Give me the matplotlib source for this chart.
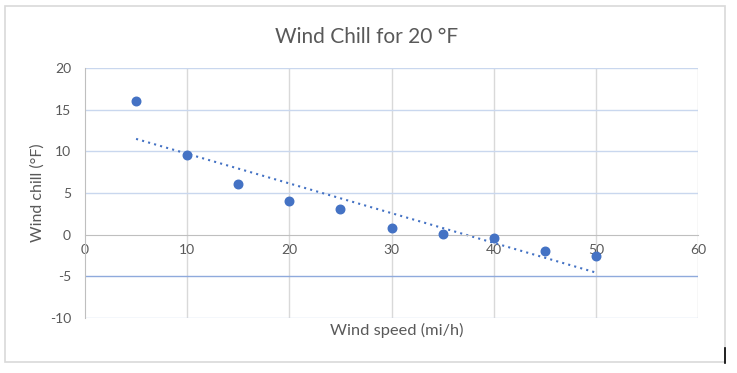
import numpy as np
import matplotlib.pyplot as plt
from matplotlib.patches import Rectangle
from matplotlib.lines import Line2D

# wind speed (mi/h) and wind chill (F)
wind_speed = [5, 10, 15, 20, 25, 30, 35, 40, 45, 50]
wind_chill = [16.0, 9.55, 6.1, 4.0, 3.1, 0.8, 0.1, -0.4, -1.9, -2.6]
x_ticks = [0, 10, 20, 30, 40, 50, 60]
y_ticks = [-10, -5, 0, 5, 10, 15, 20]


def main():
    plt.rcParams['font.family'] = ['Lato', 'DejaVu Sans']
    plt.rcParams['axes.unicode_minus'] = False
    fig = plt.figure(figsize=(7.37, 3.73), dpi=100)
    W, H = 737, 373

    # 枠
    fig.patches.append(Rectangle((5 / W, 1 - 362 / H), 720 / W, 356 / H,
                                 transform=fig.transFigure, fill=False,
                                 edgecolor='#d9d9d9', linewidth=1.2))
    fig.lines.append(Line2D([725 / W, 725 / W], [1 - 348 / H, 1 - 363 / H],
                            transform=fig.transFigure, color='black', linewidth=1.2))

    ax = fig.add_axes([85 / W, 1 - 318 / H, (698 - 85) / W, (318 - 68) / H])
    ax.set_xlim(0, 60)
    ax.set_ylim(-10, 20)

    # grid
    for x in x_ticks[1:]:
        ax.axvline(x, color='#d9d9d9', linewidth=1, zorder=0)
    for y in y_ticks:
        if y == 0:
            continue
        c = '#8faadc' if y == -5 else '#c9d7ee'
        ax.axhline(y, color=c, linewidth=1, zorder=0)

    for s in ['top', 'right']:
        ax.spines[s].set_visible(False)
    ax.spines['left'].set_color('#bfbfbf')
    ax.spines['bottom'].set_position(('data', 0))
    ax.spines['bottom'].set_color('#bfbfbf')

    ax.set_xticks(x_ticks)
    ax.set_yticks(y_ticks)
    ax.tick_params(length=0, labelsize=10, labelcolor='#595959')
    ax.tick_params(axis='x', pad=7)
    ax.tick_params(axis='y', pad=10)

    ax.scatter(wind_speed, wind_chill, s=38, color='#4472c4', zorder=3)

    # linear trendline
    k, b = np.polyfit(wind_speed, wind_chill, 1)
    xs = np.array([wind_speed[0], wind_speed[-1]])
    ax.plot(xs, k * xs + b, color='#4472c4', linestyle=(0, (1, 2)),
            linewidth=1.5, zorder=2)

    fig.text(367 / W, 1 - 37 / H, 'Wind Chill for 20 °F',
             ha='center', va='center', fontsize=15, color='#595959')
    fig.text(397 / W, 1 - 330 / H, 'Wind speed (mi/h)', ha='center', va='center',
             fontsize=11.8, color='#595959')
    fig.text(38 / W, 1 - 193 / H, 'Wind chill (°F)', ha='center', va='center',
             rotation=90, fontsize=11.5, color='#595959')

    fig.savefig('out.png', dpi=100)


if __name__ == "__main__":
    main()
